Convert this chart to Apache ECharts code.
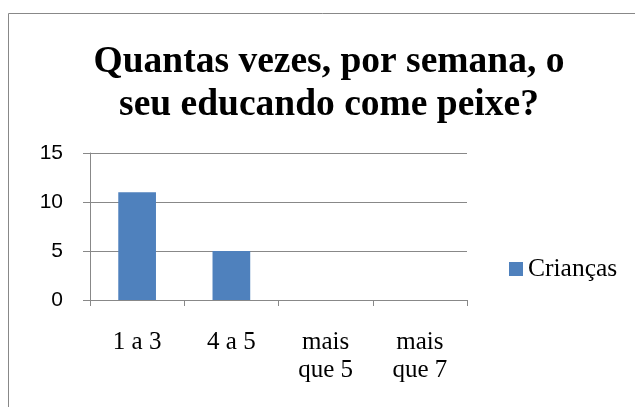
<!DOCTYPE html>
<html>
<head>
<meta charset="utf-8">
<script src="https://cdn.jsdelivr.net/npm/echarts@6/dist/echarts.min.js"></script>
<style>
  html, body { margin: 0; padding: 0; background: #fff; }
  #chart { width: 635px; height: 407px; }
</style>
</head>
<body>
<div id="chart"></div>
<script>
var categories = ['1 a 3', '4 a 5', 'mais\nque 5', 'mais\nque 7'];
var criancas = [11, 5, 0, 0];
var seriesName = 'Crianças';
var titleText = 'Quantas vezes, por semana, o\nseu educando come peixe?';

var chart = echarts.init(document.getElementById('chart'));

var option = {
  animation: false,
  graphic: [{
    type: 'rect',
    shape: { x: 8.5, y: 13.5, width: 640, height: 420 },
    style: { fill: 'none', stroke: '#888', lineWidth: 1 }
  }],
  title: {
    text: titleText,
    left: 329,
    top: 41,
    padding: 0,
    textAlign: 'center',
    textStyle: {
      fontFamily: 'Liberation Serif',
      fontWeight: 'bold',
      fontSize: 37.5,
      lineHeight: 43,
      color: '#000'
    }
  },
  legend: {
    data: [seriesName],
    left: 509,
    top: 256,
    padding: 0,
    itemWidth: 14,
    itemHeight: 14,
    icon: 'rect',
    textStyle: { fontFamily: 'Liberation Serif', fontSize: 25.5, lineHeight: 26, color: '#000' }
  },
  grid: { left: 90, top: 153, width: 377, height: 147, containLabel: false },
  xAxis: {
    type: 'category',
    data: categories,
    axisLine: { lineStyle: { color: '#888', width: 1 } },
    axisTick: { show: true, length: 6, lineStyle: { color: '#888' } },
    axisLabel: {
      margin: 28,
      fontFamily: 'Liberation Serif',
      fontSize: 25,
      lineHeight: 28,
      color: '#000',
      interval: 0
    }
  },
  yAxis: {
    type: 'value',
    min: 0,
    max: 15,
    interval: 5,
    axisLine: { show: true, lineStyle: { color: '#888', width: 1 } },
    axisTick: { show: true, length: 7, lineStyle: { color: '#888' } },
    splitLine: { lineStyle: { color: '#888', width: 1 } },
    axisLabel: {
      margin: 27,
      fontFamily: 'Liberation Sans',
      fontSize: 21,
      color: '#000'
    }
  },
  series: [{
    name: seriesName,
    type: 'bar',
    data: criancas,
    barWidth: '40%',
    itemStyle: { color: '#4f81bd' }
  }]
};

chart.setOption(option);
</script>
</body>
</html>
